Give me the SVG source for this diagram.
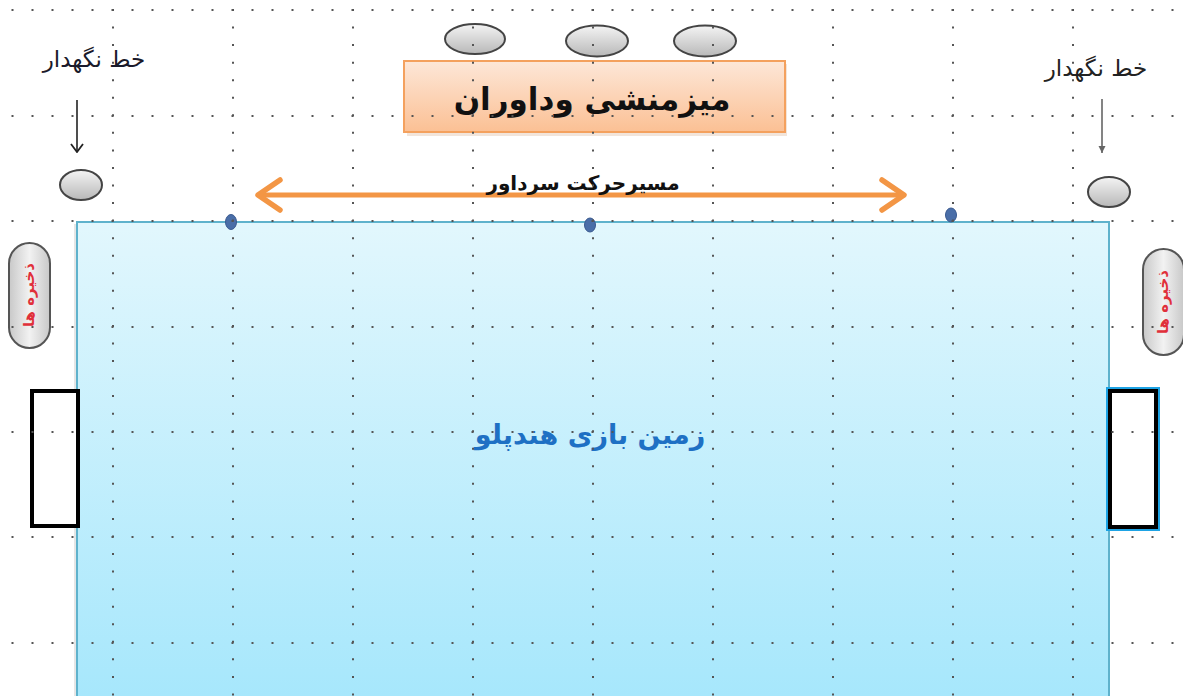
<svg xmlns="http://www.w3.org/2000/svg" width="1183" height="696" viewBox="0 0 1183 696">
<defs>
<style>
.lbl{font-family:"DejaVu Sans","Noto Sans",sans-serif;}
.seat{fill:url(#gGrey);stroke:#444;stroke-width:2;}
.gridh{stroke:#555;stroke-width:2;stroke-dasharray:2 18;}
.gridv{stroke:#555;stroke-width:2;stroke-dasharray:2 15.55;}
.dot{fill:#4a6ea8;stroke:#3a5a90;stroke-width:1;}
.pill{fill:url(#gPill);stroke:#555;stroke-width:2;}
.goal{fill:#fff;stroke:#000;stroke-width:4;}
</style>
<linearGradient id="gGrey" x1="0" y1="0" x2="0" y2="1">
<stop offset="0" stop-color="#f4f4f4"/><stop offset="1" stop-color="#b8b8b8"/>
</linearGradient>
<linearGradient id="gPill" x1="0" y1="0" x2="1" y2="0">
<stop offset="0" stop-color="#c8c8c8"/><stop offset="0.5" stop-color="#f2f2f2"/><stop offset="1" stop-color="#c8c8c8"/>
</linearGradient>
<linearGradient id="gField" x1="0" y1="0" x2="0" y2="1">
<stop offset="0" stop-color="#e2f7fd"/><stop offset="1" stop-color="#a6e7fc"/>
</linearGradient>
<linearGradient id="gTable" x1="0" y1="0" x2="0" y2="1">
<stop offset="0" stop-color="#fde7d8"/><stop offset="1" stop-color="#fbc094"/>
</linearGradient>
<marker id="mOrange" viewBox="0 0 30 36" refX="26" refY="18" markerWidth="30" markerHeight="36" markerUnits="userSpaceOnUse" orient="auto-start-reverse">
<path d="M4,3 L26,18 L4,33" fill="none" stroke="#f39645" stroke-width="5.5" stroke-linecap="round" stroke-linejoin="round"/>
</marker>
<marker id="mBlack" viewBox="0 0 12 14" refX="11" refY="7" markerWidth="12" markerHeight="14" markerUnits="userSpaceOnUse" orient="auto">
<path d="M3,1 L11,7 L3,13" fill="none" stroke="#222" stroke-width="1.8"/>
</marker>
<marker id="mGrey" viewBox="0 0 10 10" refX="9" refY="5" markerWidth="10" markerHeight="10" markerUnits="userSpaceOnUse" orient="auto">
<path d="M2,1.5 L9,5 L2,8.5 Z" fill="#666"/>
</marker>
</defs>
<rect width="1183" height="696" fill="#fff"/>

<g id="field">
<rect x="74" y="224" width="4" height="480" fill="#e6e6e6"/>
<rect x="77" y="222" width="1032" height="480" fill="url(#gField)" stroke="#5fb2cc" stroke-width="2"/>
<text class="lbl" x="590" y="444" text-anchor="middle" font-size="27" font-weight="bold" fill="#1e70c4" direction="rtl">زمین بازی هندپلو</text>
</g>

<g id="judges-table">
<rect x="407" y="64" width="380" height="72" fill="#e9d3c3" opacity="0.6"/>
<rect x="404" y="61" width="381" height="71" fill="url(#gTable)" stroke="#f4a15e" stroke-width="2"/>
<text class="lbl" x="592" y="110" text-anchor="middle" font-size="31" font-weight="bold" fill="#111" direction="rtl">میزمنشی وداوران</text>
</g>

<g id="seat-1"><ellipse class="seat" cx="475" cy="39" rx="30" ry="15"/></g>
<g id="seat-2"><ellipse class="seat" cx="597" cy="41" rx="31" ry="15.5"/></g>
<g id="seat-3"><ellipse class="seat" cx="705" cy="41" rx="31" ry="15.5"/></g>

<g id="left-keeper-label">
<text class="lbl" x="94" y="67" text-anchor="middle" font-size="23" fill="#1a1a2a" direction="rtl">خط نگهدار</text>
</g>
<g id="left-keeper"><ellipse class="seat" cx="81" cy="185" rx="21" ry="15"/></g>

<g id="right-keeper-label">
<text class="lbl" x="1096" y="76" text-anchor="middle" font-size="23" fill="#222" direction="rtl">خط نگهدار</text>
</g>
<g id="right-keeper"><ellipse class="seat" cx="1109" cy="192" rx="21" ry="15"/></g>

<g id="marker-dots">
<ellipse class="dot" cx="231" cy="222" rx="5.5" ry="7.5"/>
<ellipse class="dot" cx="590" cy="225" rx="5.5" ry="7"/>
<ellipse class="dot" cx="951" cy="215" rx="5.5" ry="7"/>
</g>

<g id="left-storage">
<rect class="pill" x="9" y="243" width="41" height="105" rx="20.5"/>
<text class="lbl" transform="translate(29,295) rotate(-90)" text-anchor="middle" dominant-baseline="central" font-size="15" font-weight="bold" fill="#e0303a" direction="rtl">ذخیره ها</text>
</g>
<g id="right-storage">
<rect class="pill" x="1143" y="249" width="41" height="106" rx="20.5"/>
<text class="lbl" transform="translate(1163,302) rotate(-90)" text-anchor="middle" dominant-baseline="central" font-size="15" font-weight="bold" fill="#e0303a" direction="rtl">ذخیره ها</text>
</g>

<g id="left-goal"><rect class="goal" x="32" y="391" width="46" height="135"/></g>
<g id="right-goal">
<rect x="1109" y="390" width="48" height="138" fill="none" stroke="#1ea3e4" stroke-width="6"/>
<rect class="goal" x="1110" y="391" width="46" height="136"/>
</g>

<g id="connectors">
<line x1="258" y1="195" x2="904" y2="195" stroke="#f39645" stroke-width="5" marker-start="url(#mOrange)" marker-end="url(#mOrange)"/>
<line x1="77" y1="100" x2="77" y2="152" stroke="#222" stroke-width="1.6" marker-end="url(#mBlack)"/>
<line x1="1102" y1="99" x2="1102" y2="153" stroke="#777" stroke-width="1.8" marker-end="url(#mGrey)"/>
</g>

<g id="referee-path-label">
<text class="lbl" x="583" y="190" text-anchor="middle" font-size="20" font-weight="bold" fill="#111" direction="rtl">مسیرحرکت سرداور</text>
</g>

<g id="grid">
<line class="gridh" x1="11.5" y1="10" x2="1183" y2="10"/>
<line class="gridh" x1="11.5" y1="116" x2="1183" y2="116"/>
<line class="gridh" x1="11.5" y1="221" x2="1183" y2="221"/>
<line class="gridh" x1="11.5" y1="327" x2="1183" y2="327"/>
<line class="gridh" x1="11.5" y1="432" x2="1183" y2="432"/>
<line class="gridh" x1="11.5" y1="537" x2="1183" y2="537"/>
<line class="gridh" x1="11.5" y1="643" x2="1183" y2="643"/>
<line class="gridv" x1="113" y1="9" x2="113" y2="696"/>
<line class="gridv" x1="233" y1="9" x2="233" y2="696"/>
<line class="gridv" x1="353" y1="9" x2="353" y2="696"/>
<line class="gridv" x1="473" y1="9" x2="473" y2="696"/>
<line class="gridv" x1="593" y1="9" x2="593" y2="696"/>
<line class="gridv" x1="713" y1="9" x2="713" y2="696"/>
<line class="gridv" x1="833" y1="9" x2="833" y2="696"/>
<line class="gridv" x1="953" y1="9" x2="953" y2="696"/>
<line class="gridv" x1="1073" y1="9" x2="1073" y2="696"/>
</g>
</svg>
